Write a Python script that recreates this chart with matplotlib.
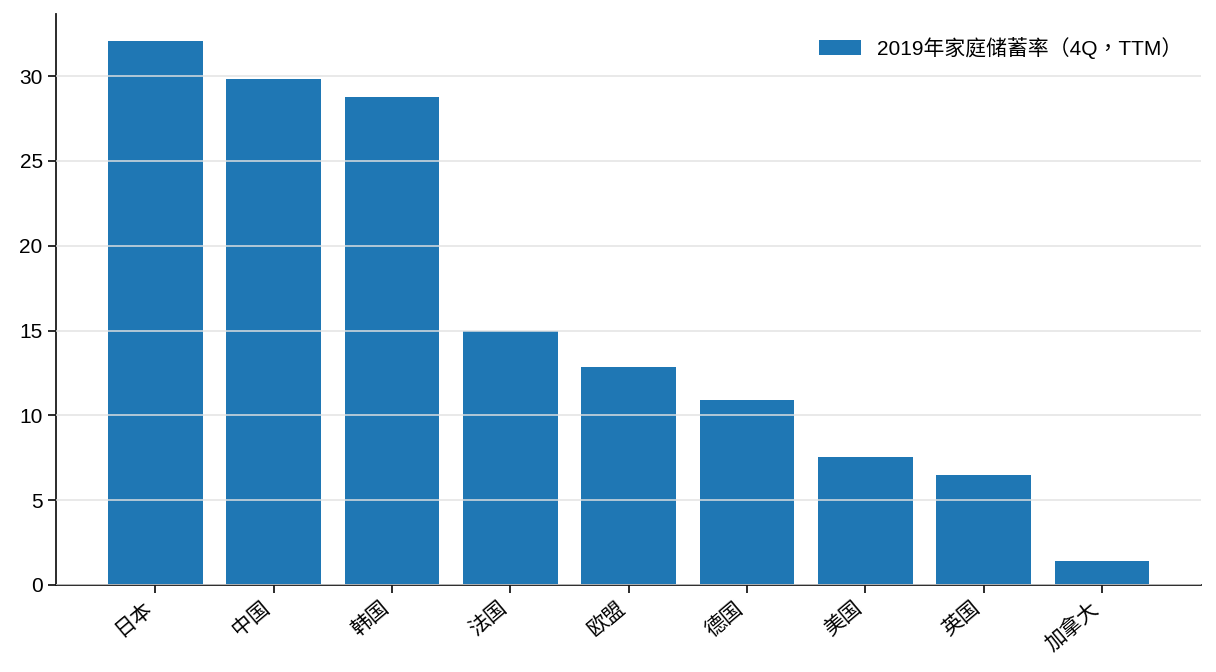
import matplotlib
matplotlib.use("Agg")
import matplotlib.pyplot as plt

plt.rcParams['font.family'] = ['Liberation Sans', 'Noto Sans CJK SC', 'DejaVu Sans']

countries = ['日本', '中国', '韩国', '法国', '欧盟', '德国', '美国', '英国', '加拿大']
savings_rate = [32.05, 29.85, 28.75, 15.0, 12.85, 10.9, 7.55, 6.5, 1.4]
series_label = '2019年家庭储蓄率（4Q，TTM）'

fig = plt.figure(figsize=(12.16, 6.72), dpi=100)
ax = fig.add_axes([0.046, 0.1295, 0.942, 0.8495])
x = list(range(len(countries)))
ax.bar(x, savings_rate, width=0.8, color='#1f77b4', label=series_label, zorder=2)
ax.set_xticks(x)
ax.set_xticklabels(countries, rotation=40, ha='right', rotation_mode='default', fontsize=15)
ax.tick_params(axis='y', labelsize=15)
ax.tick_params(axis='both', length=6, width=1.3, color='#1a1a1a')
ax.yaxis.grid(True, color='#e2e2e2', alpha=0.75, linewidth=1.4, zorder=3)
ax.set_axisbelow(False)
for s in ['top', 'right']:
    ax.spines[s].set_visible(False)
for s in ['left', 'bottom']:
    ax.spines[s].set_linewidth(1.3)
    ax.spines[s].set_color('#1a1a1a')
ax.legend(loc='upper right', frameon=False,
          prop={'family': ['Liberation Sans', 'Noto Sans CJK TC'], 'size': 15},
          bbox_to_anchor=(1.0, 0.993))
fig.savefig('out.png', dpi=100)
